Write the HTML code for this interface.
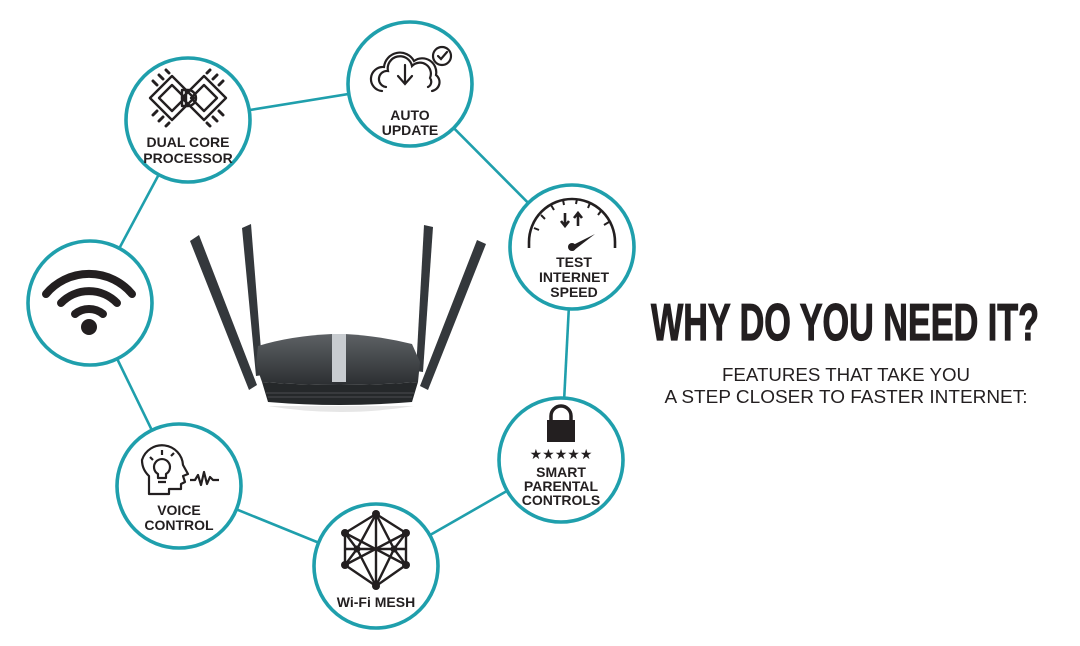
<!DOCTYPE html>
<html><head><meta charset="utf-8"><style>
html,body{margin:0;padding:0;background:#fff}
svg{display:block}
.lbl{font-family:"Liberation Sans",sans-serif;font-weight:bold;font-size:14px;fill:#231f20;text-anchor:middle}
</style></head><body>
<svg width="1080" height="646" viewBox="0 0 1080 646" xmlns="http://www.w3.org/2000/svg">
<g stroke="#1f9fac" stroke-width="2.6" fill="none">
<line x1="188" y1="120" x2="410" y2="84"/>
<line x1="410" y1="84" x2="572" y2="247"/>
<line x1="572" y1="247" x2="561" y2="460"/>
<line x1="561" y1="460" x2="376" y2="566"/>
<line x1="376" y1="566" x2="179" y2="486"/>
<line x1="179" y1="486" x2="90" y2="303"/>
<line x1="90" y1="303" x2="188" y2="120"/>
</g>
<g stroke="#1f9fac" stroke-width="3.6" fill="#fff">
<circle cx="188" cy="120" r="62"/>
<circle cx="410" cy="84" r="62"/>
<circle cx="572" cy="247" r="62"/>
<circle cx="90" cy="303" r="62"/>
<circle cx="561" cy="460" r="62"/>
<circle cx="179" cy="486" r="62"/>
<circle cx="376" cy="566" r="62"/>
</g>

<!-- dual core icon -->
<g stroke="#231f20" stroke-width="2.4" fill="none" stroke-linejoin="round">
<path d="M150 98 L172 76 L194 98 L172 120 Z"/>
<path d="M159 98 L172 85 L185 98 L172 111 Z"/>
<path d="M182 98 L204 76 L226 98 L204 120 Z"/>
<path d="M191 98 L204 85 L217 98 L204 111 Z"/>
<path d="M182 90 h6 a8 8 0 0 1 0 16 h-6 Z"/>
<path d="M186 90 v16"/>
<g stroke-width="3" stroke-linecap="round">
<path d="M157 85 l-4 -4 M163 79 l-4 -4 M169 73 l-3 -3 M157 111 l-4 4 M163 117 l-4 4 M169 123 l-3 3"/>
<path d="M219 85 l4 -4 M213 79 l4 -4 M207 73 l3 -3 M219 111 l4 4 M213 117 l4 4 M207 123 l3 3"/>
</g>
</g>
<text class="lbl" x="188" y="147">DUAL CORE</text>
<text class="lbl" x="188" y="163">PROCESSOR</text>

<!-- auto update -->
<g stroke="#231f20" stroke-width="2.2" fill="none" stroke-linecap="round">
<path d="M382 91 a12 12 0 0 1 2 -24 a16 16 0 0 1 30 -6 a14 14 0 0 1 22 14 a9 9 0 0 1 -4 16"/>
<path d="M386 87 a8 8 0 0 1 2 -16 a12 12 0 0 1 24 -5 a11 11 0 0 1 18 12 a6 6 0 0 1 -2 9"/>
<path d="M405 65 v18 M398 76 l7 8 l7 -8"/>
<circle cx="442" cy="56" r="9"/>
<path d="M438 56 l3 3 l6 -7"/>
</g>
<text class="lbl" x="410" y="120">AUTO</text>
<text class="lbl" x="410" y="135">UPDATE</text>

<!-- speed -->
<g stroke="#231f20" stroke-width="2.6" fill="none">
<path d="M529 248 v-6 a43 43 0 0 1 86 0 v6"/>
<path d="M534 228 l5 2 M541 215 l4 4 M551 205 l3 5 M563 200 l1 5 M577 199 l-1 5 M590 203 l-2 5 M601 211 l-3 4 M609 222 l-5 3" stroke-width="2"/>
<path d="M565 213 v13 M561 221 l4 5 l4 -5 M578 226 v-13 M574 218 l4 -5 l4 5"/>
</g>
<path d="M569 247 l26 -13 l-22 17 z" fill="#231f20"/>
<circle cx="572" cy="247" r="4" fill="#231f20"/>
<text class="lbl" x="574" y="267">TEST</text>
<text class="lbl" x="574" y="282">INTERNET</text>
<text class="lbl" x="574" y="297">SPEED</text>

<!-- wifi -->
<g stroke="#231f20" stroke-width="8" fill="none" stroke-linecap="round">
<path d="M46 294 A56 56 0 0 1 132 294"/>
<path d="M61 303 A39 39 0 0 1 117 303"/>
<path d="M75 314 A22 22 0 0 1 103 314"/>
</g>
<circle cx="89" cy="327" r="8" fill="#231f20"/>

<!-- parental -->
<path d="M551 420 v-4 a10 10 0 0 1 20 0 v4" stroke="#231f20" stroke-width="3.5" fill="none"/>
<rect x="547" y="420" width="28" height="22" fill="#231f20"/>
<text x="561" y="459" style="font-family:'DejaVu Sans',sans-serif;font-size:14px;fill:#231f20;text-anchor:middle">★★★★★</text>
<text class="lbl" x="561" y="477">SMART</text>
<text class="lbl" x="561" y="491">PARENTAL</text>
<text class="lbl" x="561" y="505">CONTROLS</text>

<!-- voice -->
<g stroke="#231f20" stroke-width="2.2" fill="none" stroke-linejoin="round">
<path d="M149 494 v-18 a22 22 0 0 1 -7 -16 a21 21 0 0 1 41 5 l5 9 l-5 2 l2 6 l-4 2 v5 h-12 v5 z"/>
<path d="M158 478 v-4 a8 8 0 1 1 8 0 v4 z M158 482 h8"/>
<path d="M150 457 l3 3 M162 450 v5 M174 453 l-3 3"/>
<path d="M190 480 h5 l3 -5 l3 10 l3 -13 l3 12 l3 -7 l3 3 h6"/>
</g>
<text class="lbl" x="179" y="515">VOICE</text>
<text class="lbl" x="179" y="530">CONTROL</text>

<!-- mesh -->
<g stroke="#231f20" stroke-width="2.4" fill="none">
<path d="M376 514 L345 533 L345 565 L376 586 L406 565 L406 533 Z"/>
<path d="M376 514 V586 M345 549 H406 M376 514 L357 549 L376 586 L394 549 Z"/>
<path d="M345 533 L406 565 M406 533 L345 565 M345 533 L357 549 L345 565 M406 533 L394 549 L406 565"/>
</g>
<g fill="#231f20">
<circle cx="376" cy="514" r="4"/><circle cx="345" cy="533" r="4"/><circle cx="406" cy="533" r="4"/>
<circle cx="345" cy="565" r="4"/><circle cx="406" cy="565" r="4"/><circle cx="376" cy="586" r="4"/>
<circle cx="357" cy="549" r="3.5"/><circle cx="394" cy="549" r="3.5"/>
</g>
<text class="lbl" x="376" y="607">Wi-Fi MESH</text>

<!-- router -->
<defs><linearGradient id="rb" x1="0" y1="0" x2="0" y2="1"><stop offset="0" stop-color="#5d6165"/><stop offset="1" stop-color="#2c2f32"/></linearGradient></defs>
<g fill="#34383c">
<path d="M190 241 L199 235 L257 385 L249 390 Z"/>
<path d="M242 228 L251 224 L263 375 L256 376 Z"/>
<path d="M424 225 L433 227 L423 372 L416 371 Z"/>
<path d="M477 240 L486 244 L428 390 L420 386 Z"/>
</g>
<path d="M258 346 Q290 336 332 334 L345 334 Q380 336 412 344 L420 362 L418 382 Q340 388 262 382 L256 365 Z" fill="url(#rb)"/>
<path d="M262 382 Q340 388 418 382 L412 402 Q340 408 268 402 Z" fill="#25282a"/>
<path d="M266 393 H414 M268 397 H412" stroke="#4a4d50" stroke-width="1"/>
<path d="M332 334 L346 334 L346 382 L332 382 Z" fill="#c8ccd0"/>
<path d="M268 406 H414 Q340 418 268 406 Z" fill="#e6e6e6"/>

<!-- right text -->
<text x="845" y="340" textLength="388" lengthAdjust="spacingAndGlyphs" stroke="#231f20" stroke-width="1.2" style="font-family:'Liberation Sans Narrow','Liberation Sans',sans-serif;font-weight:bold;font-size:52px;fill:#231f20;text-anchor:middle">WHY DO YOU NEED IT?</text>
<text x="846" y="381" textLength="248" lengthAdjust="spacingAndGlyphs" style="font-family:'Liberation Sans',sans-serif;font-size:18.5px;fill:#231f20;text-anchor:middle">FEATURES THAT TAKE YOU</text>
<text x="846" y="403" textLength="363" lengthAdjust="spacingAndGlyphs" style="font-family:'Liberation Sans',sans-serif;font-size:18.5px;fill:#231f20;text-anchor:middle">A STEP CLOSER TO FASTER INTERNET:</text>
</svg>
</body></html>
